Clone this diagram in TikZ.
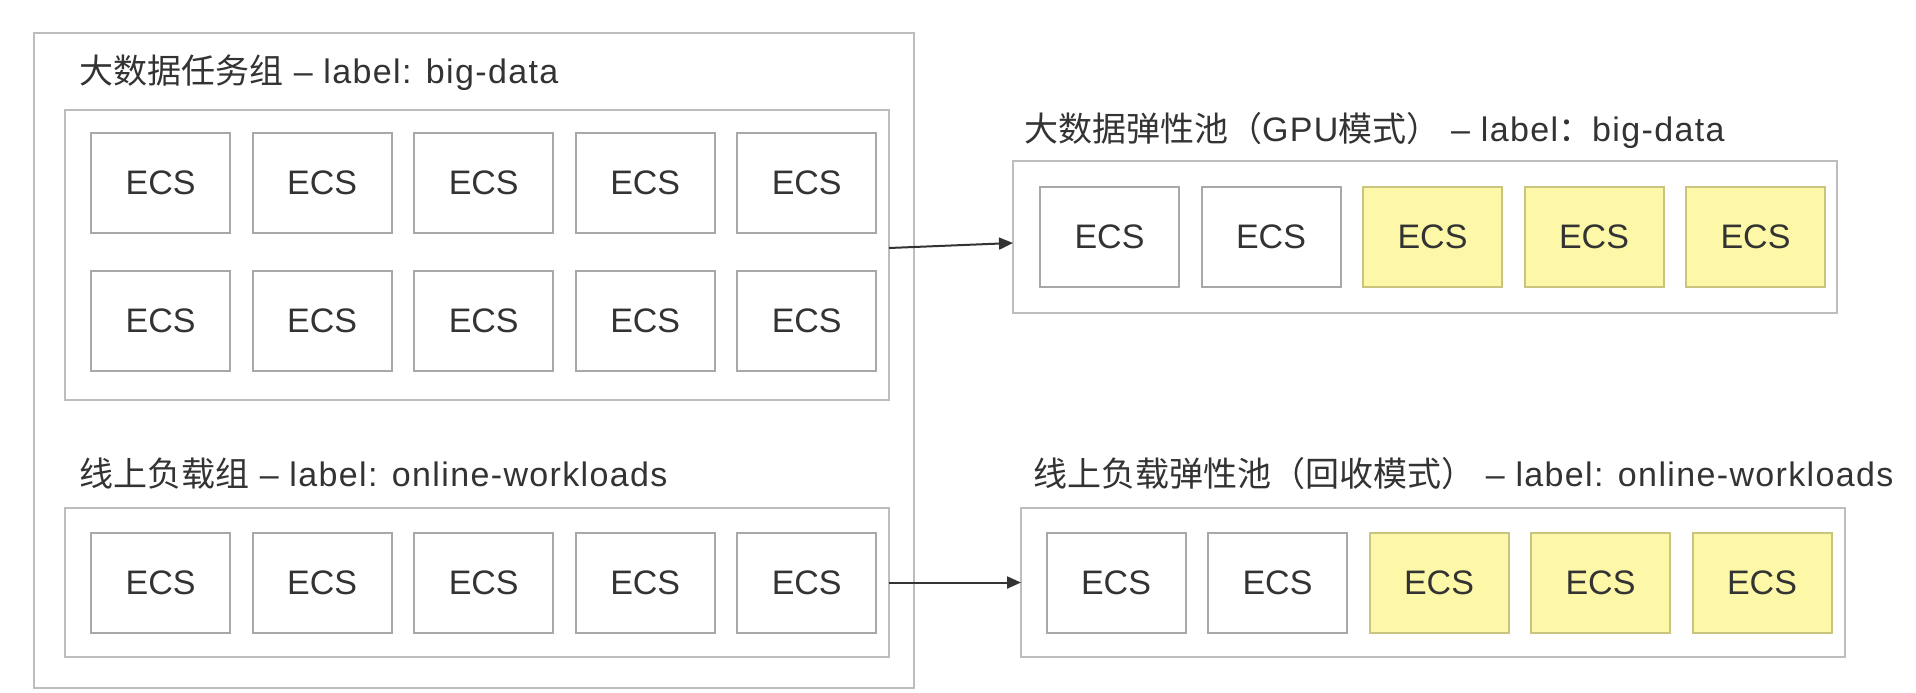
\documentclass[tikz,border=0pt]{standalone}
\usepackage{fontspec}
\setmainfont{Liberation Sans}
\newfontfamily\cjk{Noto Sans CJK SC}
\usetikzlibrary{arrows.meta}
\definecolor{txt}{HTML}{333333}
\definecolor{frame}{HTML}{BDBDBD}
\definecolor{ecsline}{HTML}{A8A8A8}
\definecolor{ecsyellow}{HTML}{FDF8A8}
\definecolor{ecsyline}{HTML}{C9C47E}
\begin{document}
\begin{tikzpicture}[x=0.5pt,y=-0.5pt,
  every node/.style={inner sep=0pt, outer sep=0pt, text=txt, font=\fontsize{17pt}{20pt}\selectfont},
  group/.style={draw=frame, line width=1pt, fill=white},
  ecs/.style={draw=ecsline, line width=1pt, fill=white, minimum width=69.5pt, minimum height=50pt},
  ecsy/.style={ecs, draw=ecsyline, fill=ecsyellow},
  title/.style={anchor=west, font=\fontsize{17pt}{20pt}\selectfont\addfontfeature{LetterSpace=4}},
  conn/.style={-{Triangle[length=7pt,width=6pt]}, line width=1pt, draw=black!80}
]
\useasboundingbox (0,0) rectangle (1916,692);
\fill[white] (0,0) rectangle (1916,692);

% outer box
\node[group, minimum width=440pt, minimum height=327.5pt] (outer) at (474,360.5) {};
\node[title] (t1) at (79,73) {{\cjk 大数据任务组} – label: big-data};
\node[group, minimum width=412pt, minimum height=145pt] (g1) at (477,255) {};
\node[title] (t2) at (79,474) {{\cjk 线上负载组} – label: online-workloads};
\node[group, minimum width=412pt, minimum height=74.5pt] (g2) at (477,582.5) {};

% ECS rows left
\foreach \i/\x in {1/160.7,2/322.2,3/483.7,4/645.2,5/806.7}{
  \node[ecs] (a\i) at (\x,182.5) {ECS};
  \node[ecs] (b\i) at (\x,321) {ECS};
  \node[ecs] (c\i) at (\x,583) {ECS};
}

% right top pool
\node[title] (t3) at (1024,130) {{\cjk 大数据弹性池（}GPU{\cjk 模式）} – label{\cjk ：}big-data};
\node[group, minimum width=412pt, minimum height=76pt] (p1) at (1425,237) {};
\foreach \i/\x in {1/1109.5,2/1271,3/1432.5,4/1594,5/1755.5}{
  \ifnum\i<3
    \node[ecs] (d\i) at (\x,237) {ECS};
  \else
    \node[ecsy] (d\i) at (\x,237) {ECS};
  \fi
}

% right bottom pool
\node[title] (t4) at (1033,474) {{\cjk 线上负载弹性池（回收模式）} – label: online-workloads};
\node[group, minimum width=412pt, minimum height=74.5pt] (p2) at (1433,582.5) {};
\foreach \i/\x in {1/1116,2/1277.5,3/1439,4/1600.5,5/1762}{
  \ifnum\i<3
    \node[ecs] (e\i) at (\x,583) {ECS};
  \else
    \node[ecsy] (e\i) at (\x,583) {ECS};
  \fi
}

% connectors
\draw[conn] ([yshift=3.5pt]g1.east) -- ([yshift=-3pt]p1.west);
\draw[conn] (g2.east) -- (p2.west);
\end{tikzpicture}
\end{document}
